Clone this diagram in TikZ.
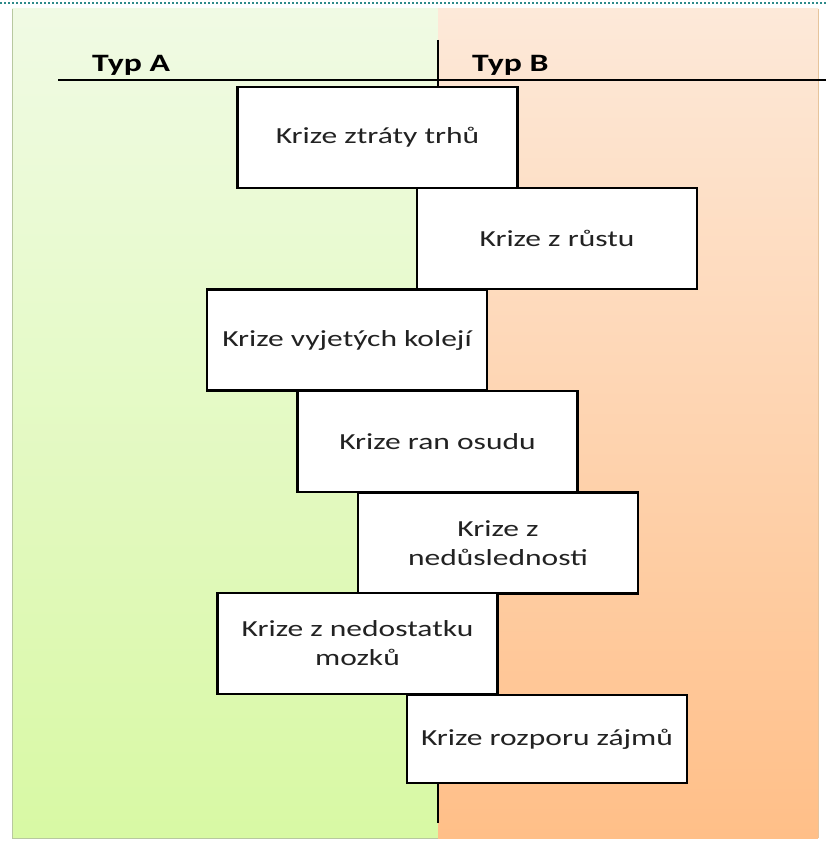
\documentclass[tikz,border=0pt]{standalone}
\usepackage{fontspec}
\setmainfont{Carlito}
\newfontfamily\boxfont[FakeStretch=1.37]{Carlito}
\newfontfamily\typfont[FakeStretch=1.35]{Carlito}
\definecolor{greentop}{HTML}{F0FAE4}
\definecolor{greenbot}{HTML}{D8F9A4}
\definecolor{orangetop}{HTML}{FDE9D9}
\definecolor{orangebot}{HTML}{FFBF88}
\definecolor{dotteal}{HTML}{2E8A8A}
\definecolor{greenedge}{HTML}{B8C8A0}
\definecolor{orangeedge}{HTML}{E6C49C}
\definecolor{boxtext}{HTML}{222222}
\begin{document}
\begin{tikzpicture}[x=1pt,y=-1pt,
  crisis/.style={draw=black, line width=2.4pt, fill=white, minimum width=280pt,
    minimum height=101pt, inner sep=0pt, align=center, text=boxtext,
    font=\boxfont\fontsize{23}{29}\selectfont},
  typlabel/.style={anchor=base west, inner sep=0pt, font=\typfont\bfseries\fontsize{25}{28}\selectfont},
  axis/.style={line width=2.4pt, black}]
\useasboundingbox (0,0) rectangle (826,842);
\fill[white] (0,0) rectangle (826,842);
% top dotted rule
\draw[dotteal, line width=2pt, dash pattern=on 2pt off 2pt] (0,3.5) -- (826,3.5);
% panels
\shade[top color=greentop, bottom color=greenbot] (12,9) rectangle (438,838);
\shade[top color=orangetop, bottom color=orangebot] (438,9) rectangle (818,838);
\draw[greenedge, line width=1pt] (12,9) -- (12,838) -- (438,838);
\draw[orangeedge, line width=1pt] (818,9) -- (818,838);
% axes
\coordinate (hl) at (58,80);
\coordinate (hr) at (826,80);
\coordinate (vt) at (438,40);
\coordinate (vb) at (438,823);
\draw[axis] (hl) -- (hr);
\draw[axis] (vt) -- (vb);
\node[typlabel] (ta) at (92,72) {Typ A};
\node[typlabel] (tb) at (472,72) {Typ B};
% boxes
\node[crisis] (k1) at (377.5,137.5) {Krize ztráty trhů};
\node[crisis] (k2) at (557,238.5) {Krize z růstu};
\node[crisis] (k3) at (347,340) {Krize vyjetých kolejí};
\node[crisis] (k4) at (437.5,441.5) {Krize ran osudu};
\node[crisis] (k5) at (498,543) {Krize z\\nedůslednosti};
\node[crisis] (k6) at (357.5,643.5) {Krize z nedostatku\\mozků};
\node[crisis, minimum height=88pt] (k7) at (547,739) {Krize rozporu zájmů};
\end{tikzpicture}
\end{document}
